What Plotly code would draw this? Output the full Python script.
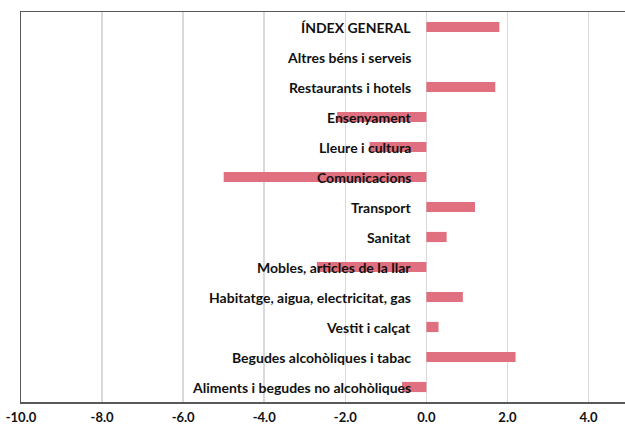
import plotly.graph_objects as go

categories = [
    "ÍNDEX GENERAL",
    "Altres béns i serveis",
    "Restaurants i hotels",
    "Ensenyament",
    "Lleure i cultura",
    "Comunicacions",
    "Transport",
    "Sanitat",
    "Mobles, articles de la llar",
    "Habitatge, aigua, electricitat, gas",
    "Vestit i calçat",
    "Begudes alcohòliques i tabac",
    "Aliments i begudes no alcohòliques",
]
values = [1.8, 0.0, 1.7, -2.2, -1.4, -5.0, 1.2, 0.5, -2.7, 0.9, 0.3, 2.2, -0.6]
tick_vals = [-10, -8, -6, -4, -2, 0, 2, 4]
tick_labels = ["-10.0", "-8.0", "-6.0", "-4.0", "-2.0", "0.0", "2.0", "4.0"]

FONT = "Lato"

fig = go.Figure()
fig.add_trace(go.Bar(
    x=values,
    y=categories,
    orientation="h",
    marker=dict(color="rgb(224,112,128)", line=dict(width=0)),
    hoverinfo="skip",
))

for c in categories:
    fig.add_annotation(
        x=0, y=c, xref="x", yref="y",
        text=c, showarrow=False,
        xanchor="right", yanchor="middle", xshift=-13,
        font=dict(family=FONT, size=14, color="#111111", weight="bold"),
    )

fig.update_layout(
    width=625, height=425,
    margin=dict(l=21, r=0, t=12, b=23, autoexpand=False),
    paper_bgcolor="white",
    plot_bgcolor="white",
    showlegend=False,
    bargap=0.66,
    xaxis=dict(
        range=[-10, 4.9],
        tickvals=tick_vals,
        ticktext=tick_labels,
        showgrid=True,
        gridcolor="#d9d9d9",
        gridwidth=1.5,
        zeroline=False,
        showline=True,
        linecolor="#595959",
        linewidth=1.5,
        mirror=True,
        ticks="",
        tickfont=dict(family=FONT, size=13, color="#111111", weight="bold"),
        ticklabelstandoff=3,
        automargin=False,
        fixedrange=True,
    ),
    yaxis=dict(
        categoryorder="array",
        categoryarray=categories[::-1],
        showticklabels=False,
        showgrid=False,
        zeroline=False,
        showline=True,
        linecolor="#595959",
        linewidth=1.5,
        mirror=False,
        ticks="",
        range=[-0.5, len(categories) - 0.5],
        automargin=False,
        fixedrange=True,
    ),
)

fig.write_html(
    "out.html",
    config={"displayModeBar": False, "staticPlot": True},
    post_script="document.body.style.margin='0';document.body.style.overflow='hidden';",
)
